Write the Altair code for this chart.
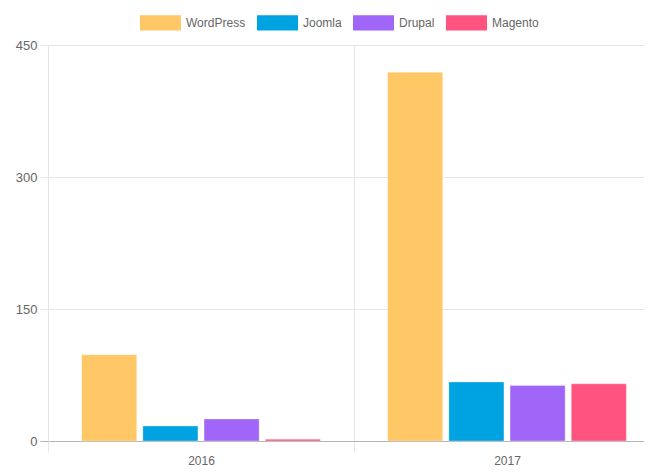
import altair as alt
import pandas as pd

years = ["2016", "2017"]
platforms = ["WordPress", "Joomla", "Drupal", "Magento"]
values_2016 = [98, 17, 25, 2]
values_2017 = [419, 67, 63, 65]
colors = ["#FFC766", "#00A3E2", "#9F66F7", "#FF5480"]

rows = []
for y, vals in zip(years, [values_2016, values_2017]):
    for p, v in zip(platforms, vals):
        rows.append({"year": y, "platform": p, "value": v})
df = pd.DataFrame(rows)

grid_light = "#e6e6e6"
zero_dark = "#b5b5b5"
font = "Liberation Sans"

chart = alt.Chart(df).mark_bar(stroke="white", strokeWidth=0.5, strokeOpacity=0.6).encode(
    x=alt.X(
        "year:N",
        sort=years,
        scale=alt.Scale(range=[0, 612], paddingInner=0, paddingOuter=0),
        axis=alt.Axis(
            title=None, labelAngle=0, tickBand="extent", grid=True,
            gridColor=grid_light, tickColor=grid_light, tickSize=11,
            domainColor=zero_dark, labelColor="#666666", labelFont=font,
            labelFontSize=12, labelPadding=3,
        ),
    ),
    xOffset=alt.XOffset(
        "platform:N", sort=platforms,
        scale=alt.Scale(paddingInner=0.1, paddingOuter=0.55),
    ),
    y=alt.Y(
        "value:Q",
        scale=alt.Scale(domain=[0, 450], nice=False),
        axis=alt.Axis(
            title=None, values=[0, 150, 300, 450], grid=True,
            gridColor={"condition": {"test": "datum.value === 0", "value": zero_dark}, "value": grid_light},
            tickColor={"condition": {"test": "datum.value === 0", "value": zero_dark}, "value": grid_light},
            tickSize=8, domainColor=grid_light, labelColor="#666666",
            labelFont=font, labelFontSize=13, labelPadding=3,
        ),
    ),
    color=alt.Color(
        "platform:N",
        sort=platforms,
        scale=alt.Scale(domain=platforms, range=colors),
        legend=alt.Legend(
            title=None, orient="none", legendX=92, legendY=-43,
            direction="horizontal",
            symbolType="M-1,-0.37L1,-0.37L1,0.37L-1,0.37Z",
            symbolSize=1681, symbolStrokeWidth=0, symbolOpacity=1,
            labelFont=font, labelFontSize=12, labelColor="#666666",
            labelOffset=5, columnPadding=11, padding=0,
        ),
    ),
).properties(
    width=596,
    height=396,
    autosize=alt.AutoSizeParams(type="none"),
    padding={"left": 40, "top": 37, "right": 0, "bottom": 25},
).configure_view(stroke=None).configure(background="white")

chart.save("out.html", embed_options={"renderer": "svg", "actions": False})
